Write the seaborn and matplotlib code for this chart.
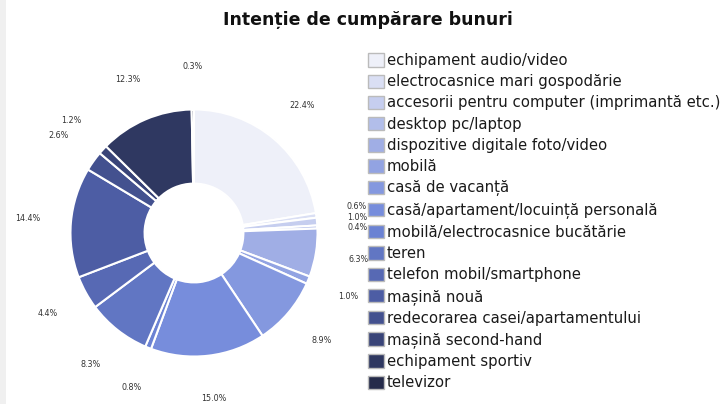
import matplotlib
matplotlib.use('Agg')
import matplotlib.pyplot as plt
import matplotlib.patches as mpatches
import seaborn as sns

categories = [
    'echipament audio/video',
    'electrocasnice mari gospodărie',
    'accesorii pentru computer (imprimantă etc.)',
    'desktop pc/laptop',
    'dispozitive digitale foto/video',
    'mobilă',
    'casă de vacanță',
    'casă/apartament/locuință personală',
    'mobilă/electrocasnice bucătărie',
    'teren',
    'telefon mobil/smartphone',
    'mașină nouă',
    'redecorarea casei/apartamentului',
    'mașină second-hand',
    'echipament sportiv',
    'televizor',
]
shares = [22.4, 0.6, 1.0, 0.4, 6.3, 1.0, 8.9, 15.0, 0.8, 8.3, 4.4, 14.4, 2.6, 1.2, 12.3, 0.3]
title = 'Intenție de cumpărare bunuri'

sns.set_theme(style='white')
plt.rcParams['font.family'] = ['DejaVu Sans']

colors = sns.blend_palette(['#eef0f9', '#a3b1e6', '#7088db', '#4a5aa0', '#252b4a'], len(shares))

fig = plt.figure(figsize=(7.23, 4.04), dpi=100)
fig.patch.set_facecolor('white')
# thin grey strip on the left edge
fig.patches.append(mpatches.Rectangle((0, 0), 6 / 723, 1, transform=fig.transFigure,
                                      facecolor='#f0f0f0', edgecolor='none', zorder=0))

ax = fig.add_axes([68 / 723, (404 - 359) / 404, 252 / 723, 252 / 404])
wedges, texts = ax.pie(
    shares, colors=colors, startangle=90, counterclock=False,
    labels=[f'{v:.1f}%' for v in shares], labeldistance=1.35,
    wedgeprops=dict(width=0.6, edgecolor='white', linewidth=1.5),
    textprops=dict(fontsize=5.8, color='#333333'),
)
for t in texts:
    t.set_ha('center')
    t.set_va('center')
# the three tiny slices on the right: spread their labels a little
for i, dy in [(1, 0.025), (3, -0.025)]:
    x, y = texts[i].get_position()
    texts[i].set_position((x - 0.02, y + dy))
x, y = texts[2].get_position()
texts[2].set_position((x - 0.02, y))
ax.set_xlim(-1.02, 1.02)
ax.set_ylim(-1.02, 1.02)
ax.set_aspect('equal')
ax.axis('off')

fig.text(368 / 723, 1 - 20 / 404, title, ha='center', va='center',
         fontsize=12.5, fontweight='bold', color='#111111')

handles = [mpatches.Patch(facecolor=c, edgecolor='#bbbbbb', linewidth=1) for c in colors]
fig.legend(handles, categories, loc='upper left', bbox_to_anchor=(368 / 723, 1 - 53 / 404),
           frameon=False, fontsize=10.7, handlelength=1.1, handleheight=1.0,
           handletextpad=0.15, labelspacing=0.42, borderpad=0, borderaxespad=0,
           labelcolor='#1a1a1a')

fig.savefig('out.png', dpi=100, facecolor='white')
